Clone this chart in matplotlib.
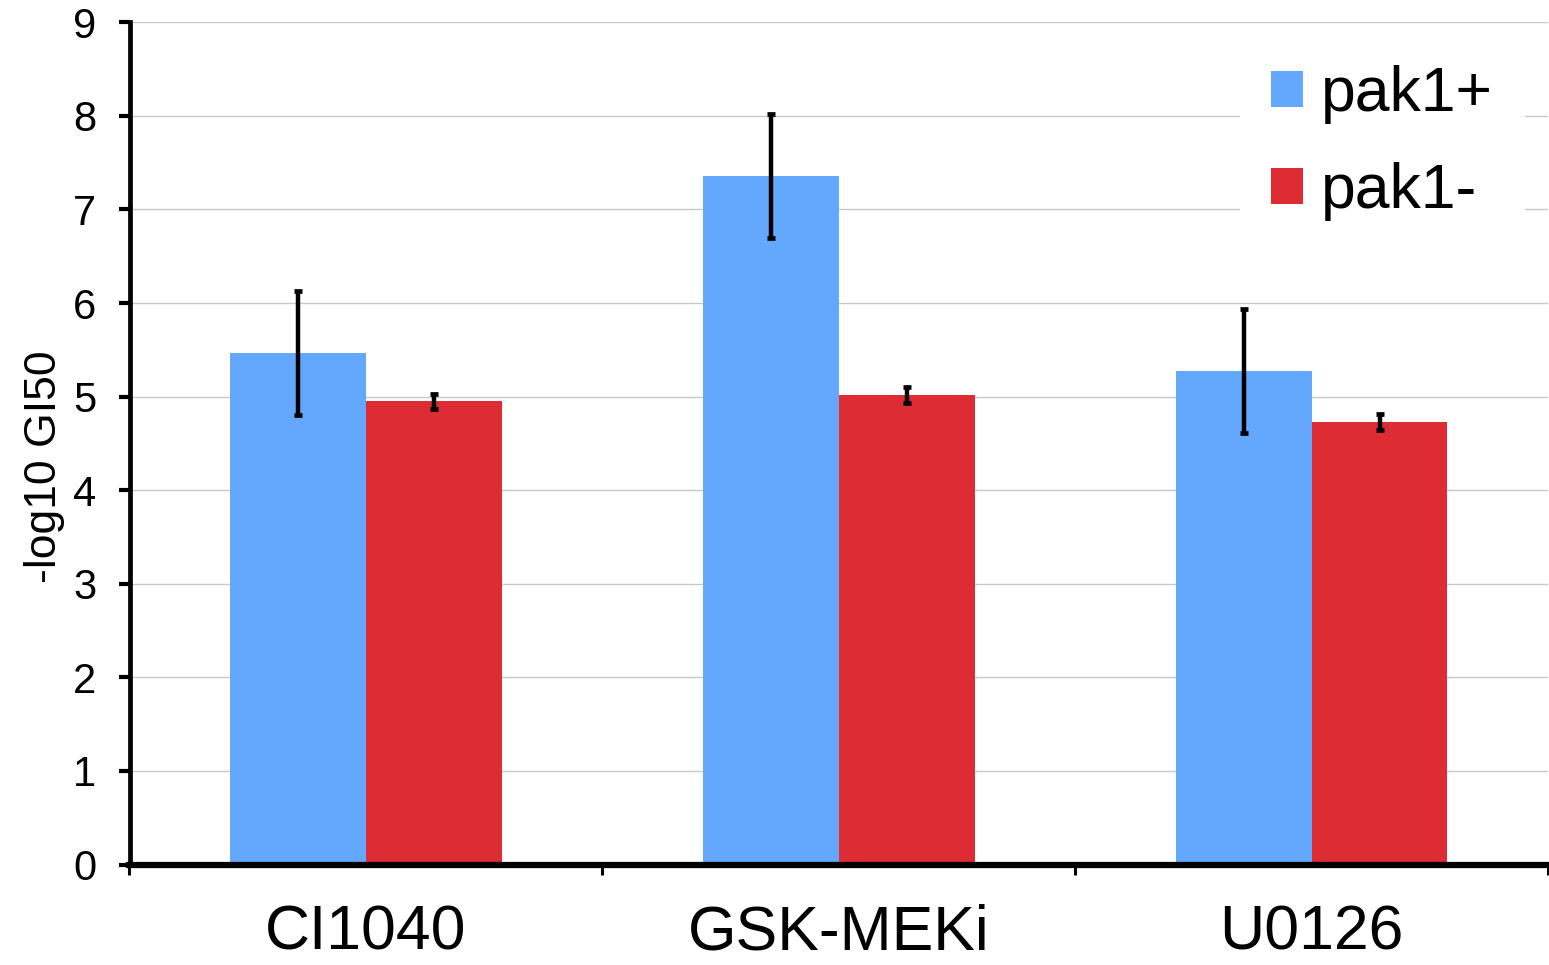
import matplotlib
matplotlib.use("Agg")
import matplotlib.pyplot as plt
import numpy as np

plt.rcParams['font.family'] = ['Liberation Sans', 'DejaVu Sans']

categories = ["CI1040", "GSK-MEKi", "U0126"]
series_names = ["pak1+", "pak1-"]
pak1_plus = [5.47, 7.355, 5.27]
pak1_plus_err = [0.662, 0.663, 0.663]
pak1_minus = [4.95, 5.016, 4.73]
pak1_minus_err = [0.08, 0.086, 0.089]
y_ticks = [0, 1, 2, 3, 4, 5, 6, 7, 8, 9]
y_label = "-log10 GI50"

blue = "#63A8FD"
red = "#DD2C33"

W, H, DPI = 1549, 965, 100
fig = plt.figure(figsize=(W / DPI, H / DPI), dpi=DPI)
ax = fig.add_axes([129.5 / W, (H - 864.5) / H, (1548 - 129.5) / W, (864.5 - 22.3) / H])

x = np.arange(len(categories))
bw = 0.2873
ax.bar(x - bw / 2, pak1_plus, width=bw, color=blue, label=series_names[0], zorder=2)
ax.bar(x + bw / 2, pak1_minus, width=bw, color=red, label=series_names[1], zorder=2)
ekw = dict(fmt='none', ecolor='black', elinewidth=3.2, capsize=3.0, capthick=3.4, zorder=3)
ax.errorbar(x - bw / 2, pak1_plus, yerr=pak1_plus_err, **ekw)
ax.errorbar(x + bw / 2, pak1_minus, yerr=pak1_minus_err, **ekw)

ax.set_xlim(-0.5, len(categories) - 0.5)
ax.set_ylim(0, 9)
ax.set_yticks(y_ticks)
ax.set_yticklabels([str(t) for t in y_ticks], fontsize=30)
ax.yaxis.grid(True, color="#C8C8C8", linewidth=1.0, zorder=0)
ax.set_axisbelow(True)

ax.set_xticks(np.arange(len(categories) + 1) - 0.5)
ax.set_xticklabels([])
ax.set_xticks(x, minor=True)
ax.set_xticklabels(categories, minor=True, fontsize=45)
ax.tick_params(axis='x', which='minor', length=0, pad=28)
ax.tick_params(axis='x', which='major', direction='out', length=7, width=2.2, color='black')
ax.tick_params(axis='y', direction='out', length=8, width=3, pad=16)

for s in ['top', 'right']:
    ax.spines[s].set_visible(False)
ax.spines['left'].set_linewidth(3.4)
ax.spines['bottom'].set_linewidth(4.5)

ax.set_ylabel(y_label, fontsize=32, labelpad=6)
ax.yaxis.label.set_position((0, (864.5 - 467) / (864.5 - 22.3)))

leg = ax.legend(loc='upper left', bbox_to_anchor=((1240 - 129.5) / (1548 - 129.5), (864.5 - 34) / (864.5 - 22.3)),
                fontsize=45, frameon=True, facecolor='white', edgecolor='none', framealpha=1,
                handlelength=0.5, handleheight=0.5, handletextpad=0.30, labelspacing=0.61,
                borderpad=0.5, borderaxespad=0, fancybox=False)

fig.savefig("out.png", dpi=DPI)
